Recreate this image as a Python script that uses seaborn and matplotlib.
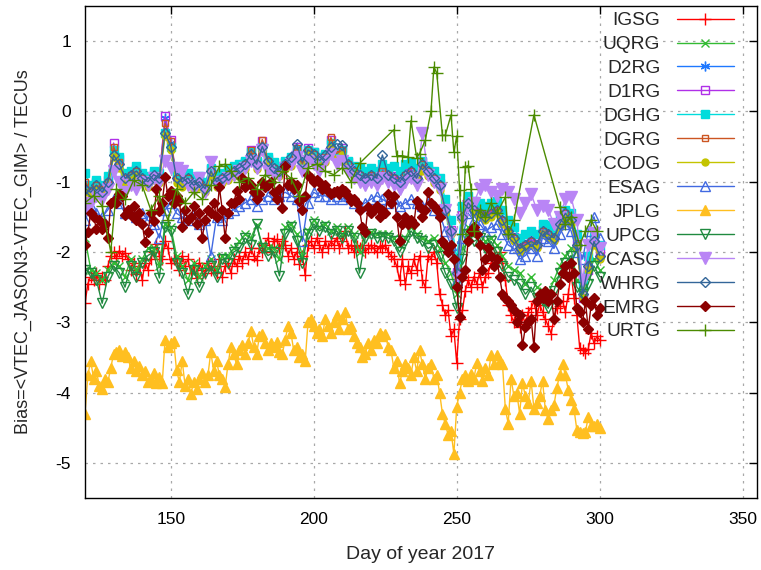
import matplotlib
matplotlib.use("Agg")
import matplotlib.pyplot as plt
import seaborn as sns

# day grids (daily and every second day)
days_all = list(range(120, 301))
days_alt = list(range(120, 301, 2))

# daily series
igsg = [-2.73, -2.45, -2.35, -2.40, -2.30, -2.45, -2.35, -2.40, -2.20, -2.05,
        -2.00, -2.08, -1.98, -2.05, -2.02, -2.10, -2.25, -2.15, -2.32, -2.20,
        -2.40, -2.15, -2.25, -2.10, -2.00, -1.88, -2.05, -2.10, -1.85, -1.95,
        -2.15, -2.10, -2.15, -2.25, -2.05, -2.20, -2.10, -2.30, -2.20, -2.37,
        -2.15, -2.25, -2.30, -2.15, -2.25, -2.20, -2.30, -2.10, -2.35, -2.20,
        -2.15, -2.30, -2.10, -2.20, -2.05, -2.15, -2.00, -2.10, -1.95, -2.05,
        -2.12, -1.95, -2.00, -1.90, -1.80, -2.00, -1.84, -1.82, -1.95, -1.85,
        -1.90, -2.05, -1.95, -2.10, -2.00, -2.17, -2.05, -2.33, -1.90, -1.85,
        -1.95, -1.80, -1.90, -2.00, -1.85, -1.95, -1.85, -1.90, -1.80, -1.95,
        -1.85, -1.70, -1.95, -1.90, -2.00, -1.92, -1.95, -1.90, -2.00, -1.95,
        -1.90, -1.95, -2.00, -1.92, -1.95, -1.90, -2.00, -2.05, -2.10, -2.20,
        -2.40, -2.10, -2.46, -2.20, -2.30, -2.10, -2.25, -2.05, -2.40, -2.50,
        -2.05, -2.10, -2.00, -2.15, -2.60, -2.75, -2.90, -2.83, -3.20, -3.10,
        -3.58, -2.95, -2.83, -2.55, -2.40, -2.50, -2.35, -2.45, -2.30, -2.50,
        -2.35, -2.30, -2.16, -2.05, -2.10, -2.00, -2.15, -2.40, -2.75, -2.90,
        -3.00, -2.95, -3.07, -2.90, -3.02, -2.85, -2.80, -2.70, -2.90, -2.75,
        -2.85, -2.96, -3.05, -3.16, -2.95, -2.80, -2.77, -2.70, -2.85, -2.60,
        -2.30, -2.65, -2.90, -3.36, -3.40, -3.43, -3.38, -3.15, -3.30, -3.20,
        -3.25]

jplg = [-4.30, -3.75, -3.55, -3.80, -3.70, -3.90, -3.95, -3.80, -3.85, -3.65,
        -3.45, -3.42, -3.40, -3.48, -3.42, -3.50, -3.65, -3.55, -3.70, -3.62,
        -3.75, -3.70, -3.85, -3.80, -3.72, -3.87, -3.78, -3.87, -3.25, -3.35,
        -3.30, -3.26, -3.68, -3.85, -3.55, -3.90, -3.80, -4.02, -3.85, -3.95,
        -3.80, -3.72, -3.85, -3.75, -3.42, -3.70, -3.55, -3.75, -3.80, -3.92,
        -3.60, -3.35, -3.45, -3.60, -3.40, -3.32, -3.45, -3.30, -3.12, -3.35,
        -3.45, -3.20, -3.16, -3.30, -3.40, -3.30, -3.35, -3.28, -3.42, -3.45,
        -3.25, -3.05, -3.15, -3.40, -3.35, -3.50, -3.45, -3.55, -3.00, -2.95,
        -3.05, -3.15, -3.10, -3.20, -2.95, -3.05, -3.15, -3.00, -2.90, -3.10,
        -2.95, -2.86, -3.10, -3.05, -3.20, -3.30, -3.35, -3.50, -3.45, -3.30,
        -3.40, -3.25, -3.30, -3.15, -3.20, -3.16, -3.35, -3.40, -3.65, -3.55,
        -3.87, -3.70, -3.60, -3.65, -3.75, -3.50, -3.70, -3.40, -3.60, -3.80,
        -3.65, -3.60, -3.80, -3.75, -4.00, -4.30, -4.45, -4.60, -4.55, -4.87,
        -4.20, -4.00, -3.80, -3.75, -3.83, -3.73, -3.80, -3.58, -3.70, -3.83,
        -3.65, -3.75, -3.47, -3.60, -3.47, -3.55, -3.60, -4.23, -4.44, -3.80,
        -4.05, -4.00, -4.30, -3.86, -4.05, -4.15, -3.83, -4.23, -4.15, -4.05,
        -3.83, -4.25, -4.38, -4.25, -4.18, -3.93, -3.75, -3.60, -3.75, -3.96,
        -4.10, -4.23, -4.53, -4.56, -4.58, -4.56, -4.35, -4.48, -4.48, -4.45,
        -4.50]

emrg = [-1.90, -1.72, -1.45, -1.50, -1.67, -1.55, -1.67, -1.60, -1.80, -1.30,
        -1.27, -1.31, -1.17, -1.20, -1.48, -1.40, -1.48, -1.35, -1.55, -1.45,
        -1.60, -1.86, -1.72, -1.45, -1.56, -1.10, -1.42, -1.30, -0.94, -1.20,
        -1.13, -1.30, -1.20, -1.27, -1.65, -1.40, -1.55, -1.50, -1.35, -1.60,
        -1.45, -1.80, -1.55, -1.40, -1.45, -1.30, -1.50, -1.08, -1.40, -1.80,
        -1.45, -1.31, -1.31, -1.13, -1.25, -0.95, -1.08, -1.00, -1.05, -1.15,
        -1.25, -1.17, -1.00, -1.08, -1.05, -1.00, -1.15, -1.25, -1.10, -1.38,
        -0.77, -1.05, -1.00, -1.10, -1.05, -1.27, -1.40, -1.20, -0.90, -0.95,
        -1.00, -0.98, -1.00, -1.10, -1.05, -1.13, -1.17, -1.15, -1.13, -1.17,
        -1.10, -1.13, -1.20, -1.27, -1.25, -1.30, -1.40, -1.65, -1.72, -1.36,
        -1.45, -1.40, -1.35, -1.50, -1.40, -1.45, -1.17, -1.30, -1.20, -1.50,
        -1.84, -1.60, -1.50, -1.60, -1.55, -1.60, -1.27, -1.36, -1.50, -1.40,
        -1.15, -1.30, -1.35, -1.40, -1.50, -1.85, -1.90, -2.00, -1.90, -2.10,
        -2.50, -2.93, -2.36, -2.26, -1.84, -1.70, -1.65, -1.75, -1.90, -2.26,
        -2.10, -1.95, -2.05, -2.20, -2.10, -2.35, -2.60, -2.65, -2.70, -2.75,
        -2.83, -3.00, -2.90, -3.33, -3.07, -3.00, -2.95, -3.35, -2.70, -2.60,
        -2.65, -2.55, -2.70, -2.60, -2.96, -2.70, -2.45, -2.30, -2.20, -2.36,
        -2.15, -2.30, -2.80, -2.85, -3.00, -2.70, -3.10, -2.75, -2.65, -2.90,
        -2.80]

# every-second-day series
uqrg = [-1.80, -2.25, -2.30, -2.40, -2.25, -2.15, -2.20, -2.35, -2.10, -2.25,
        -2.10, -1.95, -1.95, -2.20, -1.60, -1.65, -2.05, -2.20, -2.40, -2.15,
        -2.35, -2.20, -2.10, -2.25, -2.05, -2.05, -1.95, -1.85, -1.75, -1.80,
        -1.62, -1.90, -1.95, -1.95, -2.10, -1.65, -1.60, -1.75, -2.05, -1.70,
        -1.55, -1.65, -1.60, -1.70, -1.65, -1.75, -1.65, -1.75, -2.00, -1.75,
        -1.72, -1.75, -1.75, -1.75, -1.80, -1.90, -1.80, -1.65, -1.75, -1.80,
        -1.85, -1.80, -1.95, -2.15, -2.30, -2.60, -1.95, -1.65, -1.75, -1.75,
        -1.85, -1.80, -1.90, -2.05, -2.20, -2.25, -2.30, -2.45, -2.35, -2.50,
        -2.55, -2.60, -2.40, -2.20, -2.05, -1.95, -2.40, -2.50, -2.35, -2.10,
        -2.25]

d2rg = [-1.08, -1.15, -1.05, -1.15, -1.02, -0.55, -0.72, -0.95, -0.92, -0.85,
        -0.95, -1.00, -0.90, -0.95, -0.10, -0.45, -0.95, -1.00, -0.95, -1.05,
        -1.00, -1.08, -0.85, -1.00, -0.95, -0.90, -0.85, -0.80, -0.75, -0.60,
        -0.75, -0.48, -0.70, -0.80, -0.85, -0.75, -0.70, -0.50, -0.75, -0.55,
        -0.60, -0.70, -0.65, -0.45, -0.62, -0.55, -0.75, -0.85, -0.92, -0.95,
        -0.90, -0.95, -0.85, -0.90, -0.95, -1.00, -0.90, -0.85, -0.95, -0.78,
        -0.85, -0.95, -1.05, -1.40, -1.72, -2.30, -1.50, -1.32, -1.40, -1.45,
        -1.52, -1.45, -1.40, -1.55, -1.72, -1.80, -1.95, -1.90, -1.85, -1.90,
        -1.72, -1.75, -1.80, -1.60, -1.45, -1.55, -1.92, -2.62, -2.20, -1.85,
        -2.05]

d1rg = [-1.05, -1.10, -1.00, -1.12, -0.98, -0.45, -0.68, -0.92, -0.88, -0.82,
        -0.92, -0.98, -0.88, -0.92, -0.07, -0.40, -0.92, -0.98, -0.92, -1.02,
        -0.98, -1.05, -0.82, -0.98, -0.92, -0.88, -0.82, -0.78, -0.72, -0.55,
        -0.72, -0.42, -0.68, -0.78, -0.82, -0.72, -0.68, -0.50, -0.72, -0.52,
        -0.58, -0.68, -0.62, -0.40, -0.58, -0.52, -0.72, -0.82, -0.88, -0.92,
        -0.88, -0.92, -0.82, -0.88, -0.92, -0.98, -0.88, -0.82, -0.92, -0.72,
        -0.82, -0.92, -1.02, -1.38, -1.68, -2.28, -1.48, -1.28, -1.38, -1.42,
        -1.48, -1.42, -1.38, -1.52, -1.68, -1.78, -1.92, -1.88, -1.82, -1.88,
        -1.68, -1.72, -1.78, -1.58, -1.42, -1.52, -1.88, -2.65, -2.25, -1.82,
        -2.02]

dghg = [-0.88, -1.05, -0.98, -1.05, -0.92, -0.55, -0.65, -0.88, -0.85, -0.78,
        -0.88, -0.92, -0.85, -0.88, -0.30, -0.50, -0.88, -0.92, -0.88, -0.95,
        -0.92, -1.00, -0.80, -0.92, -0.88, -0.82, -0.78, -0.75, -0.70, -0.58,
        -0.70, -0.50, -0.65, -0.72, -0.78, -0.70, -0.65, -0.55, -0.70, -0.55,
        -0.58, -0.65, -0.60, -0.45, -0.58, -0.55, -0.70, -0.78, -0.80, -0.85,
        -0.80, -0.85, -0.75, -0.80, -0.78, -0.85, -0.75, -0.72, -0.80, -0.70,
        -0.78, -0.85, -0.95, -1.25, -1.55, -2.10, -1.35, -1.20, -1.28, -1.30,
        -1.35, -1.30, -1.28, -1.40, -1.55, -1.65, -1.80, -1.75, -1.70, -1.75,
        -1.60, -1.62, -1.70, -1.50, -1.40, -1.45, -1.75, -2.45, -2.05, -1.75,
        -1.90]

dgrg = [-1.00, -1.12, -1.05, -1.10, -1.00, -0.50, -0.72, -0.95, -0.90, -0.85,
        -0.95, -1.00, -0.92, -0.95, -0.17, -0.42, -0.95, -1.00, -0.95, -1.05,
        -1.00, -1.08, -0.85, -1.00, -0.95, -0.90, -0.85, -0.80, -0.75, -0.55,
        -0.75, -0.40, -0.70, -0.80, -0.85, -0.75, -0.70, -0.52, -0.75, -0.55,
        -0.60, -0.70, -0.65, -0.37, -0.60, -0.55, -0.75, -0.85, -0.90, -0.95,
        -0.90, -0.95, -0.85, -0.90, -0.95, -1.00, -0.90, -0.85, -0.95, -0.75,
        -0.85, -0.95, -1.05, -1.40, -1.70, -2.30, -1.50, -1.30, -1.40, -1.45,
        -1.50, -1.45, -1.40, -1.55, -1.70, -1.80, -1.95, -1.90, -1.85, -1.90,
        -1.70, -1.75, -1.80, -1.60, -1.45, -1.55, -1.90, -2.60, -2.20, -1.85,
        -2.05]

codg = [-1.15, -1.20, -1.12, -1.20, -1.08, -0.65, -0.80, -1.02, -0.98, -0.92,
        -1.02, -1.08, -0.98, -1.02, -0.35, -0.55, -1.02, -1.08, -1.02, -1.12,
        -1.08, -1.15, -0.92, -1.08, -1.02, -0.98, -0.92, -0.88, -0.82, -0.68,
        -0.82, -0.55, -0.78, -0.88, -0.92, -0.82, -0.78, -0.62, -0.82, -0.62,
        -0.68, -0.78, -0.72, -0.52, -0.68, -0.62, -0.82, -0.92, -0.98, -1.02,
        -0.98, -1.02, -0.92, -0.98, -1.02, -1.08, -0.98, -0.92, -1.02, -0.85,
        -0.92, -1.02, -1.12, -1.45, -1.75, -2.35, -1.55, -1.35, -1.45, -1.50,
        -1.55, -1.50, -1.45, -1.60, -1.75, -1.85, -2.00, -1.95, -1.90, -1.95,
        -1.75, -1.80, -1.85, -1.65, -1.50, -1.60, -1.95, -2.65, -2.25, -1.90,
        -2.10]

esag = [-1.55, -1.35, -1.45, -1.50, -1.40, -1.25, -1.30, -1.45, -1.40, -1.50,
        -1.45, -1.55, -1.60, -1.80, -1.40, -1.30, -1.45, -1.50, -1.55, -1.45,
        -1.60, -1.55, -2.05, -1.50, -1.55, -1.45, -1.40, -1.35, -1.30, -1.25,
        -1.35, -1.25, -1.20, -1.25, -1.20, -1.15, -1.20, -1.25, -1.85, -1.30,
        -1.15, -1.20, -1.20, -1.25, -1.20, -1.25, -1.20, -1.30, -1.35, -1.30,
        -1.25, -1.20, -1.25, -1.30, -1.25, -1.35, -1.30, -1.25, -1.30, -1.35,
        -1.30, -1.40, -1.45, -1.70, -1.90, -2.40, -1.80, -1.45, -1.55, -1.60,
        -1.70, -1.65, -1.60, -1.75, -1.90, -1.95, -2.10, -2.05, -1.95, -2.05,
        -1.80, -1.85, -1.95, -1.75, -1.60, -1.70, -2.00, -2.10, -1.70, -1.50,
        -1.80]

upcg = [-2.25, -2.30, -2.40, -2.73, -2.35, -2.20, -2.30, -2.50, -2.20, -2.35,
        -2.15, -2.05, -2.00, -2.37, -1.65, -1.70, -2.15, -2.30, -2.60, -2.25,
        -2.50, -2.30, -2.20, -2.35, -2.10, -2.15, -2.00, -1.95, -1.80, -1.90,
        -1.60, -1.95, -2.05, -2.00, -2.34, -1.75, -1.65, -1.85, -2.15, -1.75,
        -1.60, -1.70, -1.65, -1.75, -1.70, -1.80, -1.70, -1.80, -2.30, -1.80,
        -1.75, -1.80, -1.78, -1.80, -1.85, -2.00, -1.85, -1.70, -1.80, -1.85,
        -1.95, -1.90, -2.05, -2.30, -2.45, -2.80, -2.10, -1.75, -1.85, -1.80,
        -1.95, -1.85, -2.00, -2.20, -2.35, -2.40, -2.45, -2.60, -2.50, -2.65,
        -2.70, -2.80, -2.55, -2.30, -2.15, -2.05, -2.50, -2.60, -2.45, -2.20,
        -2.35]

casg = [-1.40, -1.30, -1.20, -1.25, -1.10, -0.85, -1.00, -1.15, -1.05, -1.10,
        -1.00, -1.05, -0.95, -1.00, -0.70, -0.80, -0.80, -0.85, -1.05, -1.10,
        -0.95, -1.15, -0.72, -1.05, -1.00, -0.95, -0.90, -0.85, -0.80, -0.70,
        -0.80, -0.55, -0.85, -0.90, -0.90, -0.80, -0.75, -0.65, -0.85, -0.70,
        -0.75, -0.85, -0.70, -0.60, -0.75, -0.70, -0.85, -0.95, -1.00, -1.05,
        -1.00, -1.05, -0.95, -1.00, -1.05, -1.10, -1.00, -0.95, -1.05, -0.30,
        -0.90, -1.00, -1.10, -1.40, -1.75, -2.35, -1.55, -1.35, -1.30, -1.10,
        -1.05, -1.15, -1.20, -1.10, -1.15, -1.25, -1.45, -1.30, -1.17, -1.40,
        -1.35, -1.40, -1.60, -1.50, -1.25, -1.22, -1.55, -2.40, -1.90, -1.73,
        -1.95]

whrg = [-1.10, -1.15, -1.05, -1.15, -1.00, -0.62, -0.75, -0.95, -0.90, -0.85,
        -0.95, -1.00, -0.90, -0.95, -0.30, -0.50, -0.95, -1.00, -0.95, -1.05,
        -1.00, -1.10, -0.85, -1.00, -0.95, -0.90, -0.85, -0.80, -0.75, -0.60,
        -0.75, -0.50, -0.70, -0.80, -0.85, -0.75, -0.65, -0.46, -0.72, -0.55,
        -0.60, -0.70, -0.62, -0.50, -0.46, -0.48, -0.75, -0.85, -0.90, -0.95,
        -0.90, -0.95, -0.62, -0.90, -0.95, -1.00, -0.90, -0.85, -0.95, -0.75,
        -0.85, -0.95, -1.05, -1.40, -1.70, -2.30, -1.50, -1.30, -1.40, -1.45,
        -1.50, -1.45, -1.40, -1.55, -1.70, -1.80, -1.95, -1.90, -1.85, -1.90,
        -1.70, -1.75, -1.80, -1.60, -1.45, -1.55, -1.90, -2.60, -2.20, -1.85,
        -2.05]

# URTG has its own (irregular) days
urtg_days = [120, 123, 126, 129, 131, 134, 137, 140, 143, 146, 149, 152, 155,
             158, 161, 164, 167, 169, 171, 174, 177, 180, 183, 186, 189, 192,
             195, 198, 201, 204, 207, 210, 213, 216, 228, 229, 231, 233, 234,
             236, 237, 239, 241, 242, 243, 245, 246, 248, 249, 250, 251, 252,
             253, 254, 255, 256, 258, 260, 262, 264, 267, 268, 270, 277, 286,
             288, 290, 293, 295, 297, 299]
urtg = [-1.30, -1.20, -1.35, -2.00, -1.10, -1.25, -0.98, -1.05, -1.40, -1.20,
        -1.55, -1.10, -1.30, -1.15, -1.25, -1.05, -0.78, -0.75, -0.85, -1.00,
        -0.95, -1.10, -0.90, -1.00, -0.85, -0.95, -1.20, -0.80, -0.75, -0.85,
        -0.90, -0.80, -1.00, -0.74, -0.26, -0.63, -0.63, -0.65, -0.13, -0.66,
        -0.60, -0.41, 0.00, 0.63, 0.55, -0.34, -0.34, -0.05, -0.58, -0.35,
        -1.12, -1.74, -0.79, -0.77, -1.10, -1.70, -1.40, -1.50, -1.30, -1.45,
        -1.22, -1.74, -1.55, -0.05, -1.36, -1.60, -1.50, -1.90, -1.70, -1.55,
        -1.70]

names = ["IGSG", "UQRG", "D2RG", "D1RG", "DGHG", "DGRG", "CODG",
         "ESAG", "JPLG", "UPCG", "CASG", "WHRG", "EMRG", "URTG"]

sns.set_style("white")
plt.rcParams['font.family'] = ['Liberation Sans', 'DejaVu Sans']
plt.rcParams['axes.unicode_minus'] = False

fig = plt.figure(figsize=(7.61, 5.70), dpi=100)
ax = fig.add_axes([0.1117, 0.1263, 0.8830, 0.8632])

# x, y, colour, marker, filled, size
styles = [
    (days_all, igsg, "#ff0000", "+", True, 8),
    (days_alt, uqrg, "#33bb33", "x", True, 6),
    (days_alt, d2rg, "#1e78ff", (6, 2, 0), True, 7),
    (days_alt, d1rg, "#b030e8", "s", False, 6),
    (days_alt, dghg, "#00dcdc", "s", True, 6),
    (days_alt, dgrg, "#cc5522", "s", False, 5),
    (days_alt, codg, "#c4c400", "o", True, 5),
    (days_alt, esag, "#4169e1", "^", False, 7),
    (days_all, jplg, "#ffbf20", "^", True, 7),
    (days_alt, upcg, "#208a40", "v", False, 7),
    (days_alt, casg, "#b985f5", "v", True, 8),
    (days_alt, whrg, "#336699", "D", False, 5),
    (days_all, emrg, "#8b0000", "D", True, 5),
    (urtg_days, urtg, "#4b8b00", "+", True, 9),
]

for name, (d, v, col, mk, filled, ms) in zip(names, styles):
    n = min(len(d), len(v))
    sns.lineplot(x=d[:n], y=v[:n], ax=ax, color=col, label=name,
                 marker=mk, markersize=ms, linewidth=1, estimator=None,
                 sort=False, markeredgecolor=col, markeredgewidth=1,
                 markerfacecolor=col if filled else "none")

ax.set_xlim(120, 355)
ax.set_ylim(-5.5, 1.5)
ax.set_xticks([150, 200, 250, 300, 350])
ax.set_yticks([-5, -4, -3, -2, -1, 0, 1])
ax.grid(True, color="#a8a8a8", linestyle=(0, (2, 4)), linewidth=0.9)
ax.tick_params(direction="in", top=True, right=True, length=6, width=1,
               labelsize=12.5, pad=10, colors="black")
for sp in ax.spines.values():
    sp.set_color("black")
    sp.set_linewidth(1)

ax.set_xlabel("Day of year 2017", fontsize=14, labelpad=14)
ax.set_ylabel("Bias=<VTEC_JASON3-VTEC_GIM> / TECUs", fontsize=13,
              labelpad=17)

ax.legend(loc="upper right", bbox_to_anchor=(0.966, 0.988), frameon=False,
          markerfirst=False, fontsize=13.8, handlelength=3.0,
          handletextpad=0.85, labelspacing=0.34, borderaxespad=0,
          borderpad=0)

fig.savefig("out.png", dpi=100)
